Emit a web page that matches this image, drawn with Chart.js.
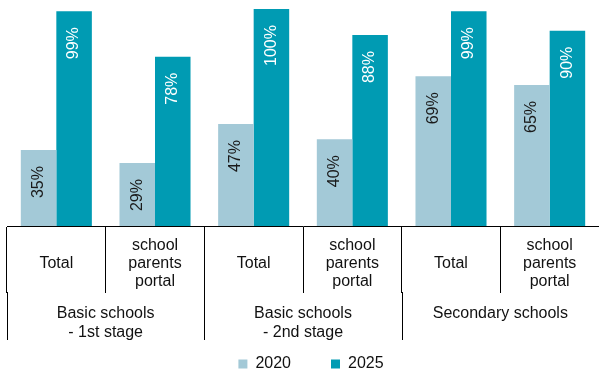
<!DOCTYPE html>
<html>
<head>
<meta charset="utf-8">
<script src="https://cdn.jsdelivr.net/npm/chart.js@4/dist/chart.umd.min.js"></script>
<style>
  html, body { margin: 0; padding: 0; background: #fff; }
  #wrap { width: 599px; height: 369px; position: relative; }
</style>
</head>
<body>
<div id="wrap"><canvas id="portalChart"></canvas></div>
<script>
const subLabels = [
  ['Total'], ['school', 'parents', 'portal'],
  ['Total'], ['school', 'parents', 'portal'],
  ['Total'], ['school', 'parents', 'portal']
];
const groupLabels = [
  ['Basic schools', '- 1st stage'],
  ['Basic schools', '- 2nd stage'],
  ['Secondary schools']
];
const seriesNames = ['2020', '2025'];
const values2020 = [35, 29, 47, 40, 69, 65];
const values2025 = [99, 78, 100, 88, 99, 90];

const FONT = "'Liberation Sans', Arial, sans-serif";
const colors = ['#A3C9D7', '#009BB3'];
const labelColors = ['#1a1a1a', '#ffffff'];

// category texts, group texts, group dividers and the rotated value labels
const axisText = {
  id: 'axisText',
  afterLayout(chart) {
    // nudge the legend row a little to the right
    chart.legend.left += 7;
    chart.legend.right += 7;
  },
  afterDraw(chart) {
    const ctx = chart.ctx;
    const x = chart.scales.x;
    const base = chart.chartArea.bottom;
    const step = (x.right - x.left) / subLabels.length;
    ctx.save();
    ctx.font = '16px ' + FONT;
    ctx.fillStyle = '#111';
    ctx.textAlign = 'center';
    ctx.textBaseline = 'middle';

    subLabels.forEach((lines, i) => {
      const cx = x.getPixelForValue(i);
      lines.forEach((t, j) => {
        ctx.fillText(t, cx, base + 38 + (j - (lines.length - 1) / 2) * 18);
      });
    });

    const perGroup = subLabels.length / groupLabels.length;
    groupLabels.forEach((lines, g) => {
      const cx = x.left + step * perGroup * (g + 0.5);
      lines.forEach((t, j) => ctx.fillText(t, cx, base + 88 + j * 19));
    });

    ctx.strokeStyle = '#000';
    ctx.lineWidth = 1;
    for (let g = 0; g <= groupLabels.length; g++) {
      const px = Math.round(x.left + step * perGroup * g) + 0.5;
      ctx.beginPath();
      ctx.moveTo(px, base + 66);
      ctx.lineTo(px, base + 114);
      ctx.stroke();
    }

    chart.data.datasets.forEach((ds, d) => {
      const meta = chart.getDatasetMeta(d);
      ctx.fillStyle = labelColors[d];
      meta.data.forEach((bar, i) => {
        ctx.save();
        ctx.translate(bar.x, bar.y + 16);
        ctx.rotate(-Math.PI / 2);
        ctx.textAlign = 'right';
        ctx.textBaseline = 'middle';
        ctx.fillText(ds.data[i] + '%', 0, 0);
        ctx.restore();
      });
    });
    ctx.restore();
  }
};

const legendGap = 40;

new Chart(document.getElementById('portalChart'), {
  type: 'bar',
  data: {
    labels: subLabels.map(l => l.join(' ')),
    datasets: [
      { label: seriesNames[0], data: values2020, backgroundColor: colors[0] },
      { label: seriesNames[1], data: values2025, backgroundColor: colors[1] }
    ]
  },
  options: {
    responsive: true,
    maintainAspectRatio: false,
    animation: false,
    layout: { padding: { top: 9, left: 7, right: -2, bottom: 0 } },
    datasets: { bar: { categoryPercentage: 0.72, barPercentage: 1.0, borderWidth: 0 } },
    plugins: {
      tooltip: { enabled: false },
      legend: {
        position: 'bottom',
        maxHeight: 13 + legendGap,
        labels: {
          boxWidth: 9,
          boxHeight: 9,
          padding: legendGap,
          color: '#111',
          font: { family: FONT, size: 16 }
        }
      }
    },
    scales: {
      x: {
        grid: { offset: true, drawOnChartArea: false, tickLength: 67, color: '#000', lineWidth: 1 },
        border: { color: '#000', width: 1 },
        ticks: { display: false },
        afterFit(scale) { scale.height = 90; }
      },
      y: {
        display: false,
        min: 0,
        max: 100
      }
    }
  },
  plugins: [axisText]
});
</script>
</body>
</html>
